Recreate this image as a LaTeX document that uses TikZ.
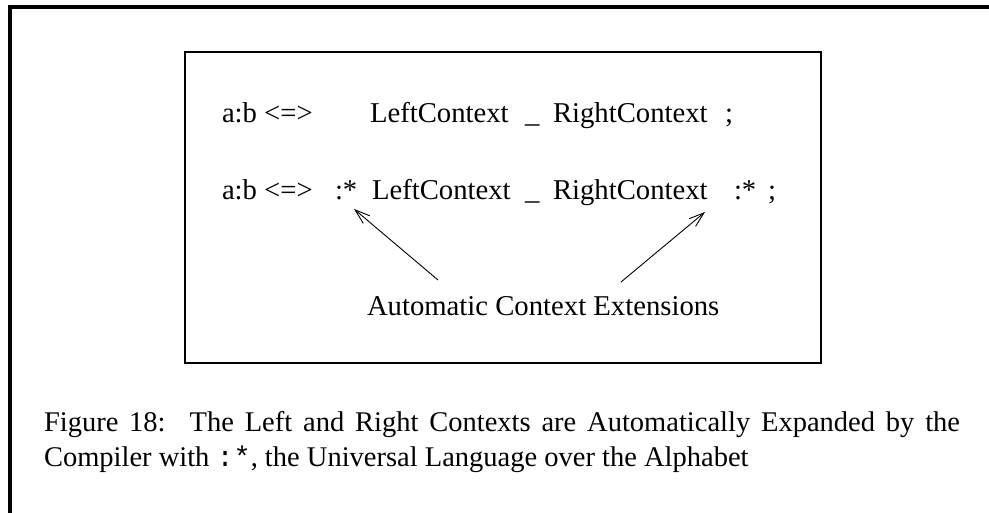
\documentclass[tikz,border=0pt]{standalone}
\usepackage{fontspec}
\setmainfont{Liberation Serif}
\setmonofont{Liberation Mono}
\usetikzlibrary{arrows.meta}
\tikzset{
  txt/.style={anchor=base west, inner sep=0pt, outer sep=0pt, font=\fontsize{28.7}{34}\selectfont},
  captxt/.style={anchor=base west, inner sep=0pt, outer sep=0pt, font=\fontsize{28.5}{34}\selectfont},
  frameline/.style={line width=4pt, line cap=butt},
  boxline/.style={line width=1.5pt},
  ptr/.style={line width=0.9pt, -{Straight Barb[length=15pt,width=10pt]}}
}
\begin{document}
\begin{tikzpicture}[x=1pt,y=-1pt]
\useasboundingbox (0,0) rectangle (989,513);
% outer frame (top and left edges)
\draw[frameline] (10,513) -- (10,7) -- (989,7);
% inner box
\draw[boxline] (185,52) rectangle (821,363);
% row 1
\node[txt] (r1a) at (222,123) {a:b <=>};
\node[txt] (r1l) at (370,123) {LeftContext};
\node[txt] (r1u) at (525,123) {\_};
\node[txt] (r1r) at (553,123) {RightContext};
\node[txt] (r1s) at (725,123) {;};
% row 2
\node[txt] (r2a) at (222,200) {a:b <=>};
\node[txt] (r2x) at (335,200) {:*};
\node[txt] (r2l) at (372,200) {LeftContext};
\node[txt] (r2u) at (525,200) {\_};
\node[txt] (r2r) at (553,200) {RightContext};
\node[txt] (r2y) at (734,200) {:*};
\node[txt] (r2s) at (768,200) {;};
% label
\node[txt] (ace) at (367,316) {Automatic Context Extensions};
% arrows
\coordinate (s1) at (438,280);
\coordinate (t1) at (354,209);
\coordinate (s2) at (621,282);
\coordinate (t2) at (705,212);
\draw[ptr] (s1) -- (t1);
\draw[ptr] (s2) -- (t2);
% caption
\node[captxt] (c1) at (44,431) {\makebox[916pt][s]{Figure 18:\hspace{7pt} The Left and Right Contexts are Automatically Expanded by the}};
\node[captxt] (c2) at (44,466) {Compiler with {\ttfamily :*}, the Universal Language over the Alphabet};
\end{tikzpicture}
\end{document}
